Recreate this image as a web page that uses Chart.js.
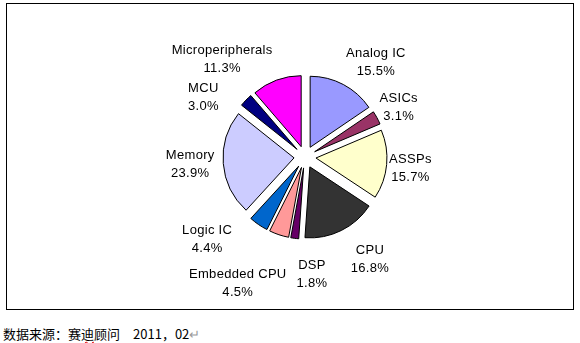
<!DOCTYPE html>
<html>
<head>
<meta charset="utf-8">
<script src="https://cdn.jsdelivr.net/npm/chart.js@4/dist/chart.umd.min.js"></script>
<style>
  html, body { margin: 0; padding: 0; background: #fff; }
  #frame { position: absolute; left: 6px; top: 3px; width: 566px; height: 305px; border: 1px solid #000; }
  #chart { position: absolute; left: 0; top: 0; z-index: 1; }
  #note { position: absolute; left: 3px; top: 327px; font: 13px/14px "Noto Sans CJK SC", sans-serif; color: #000; white-space: pre; }
  #note .spell { text-decoration: underline wavy #e00000; text-decoration-thickness: 1px; text-underline-offset: 2px; }
  #note .mark { color: #9a9a9a; }
</style>
</head>
<body>
<div id="frame"></div>
<canvas id="chart" width="580" height="343"></canvas>
<div id="note">数据来源：赛<span class="spell">迪</span>顾问　2011，02<span class="mark">↵</span></div>
<script>
// Market share by product segment (%)
const categories = ['Analog IC', 'ASICs', 'ASSPs', 'CPU', 'DSP', 'Embedded CPU', 'Logic IC', 'Memory', 'MCU', 'Microperipherals'];
const shares = [15.5, 3.1, 15.7, 16.8, 1.8, 4.5, 4.4, 23.9, 3.0, 11.3];
const sliceColors = ['#9999FF', '#993366', '#FFFFCC', '#333333', '#660066', '#FF9999', '#0066CC', '#CCCCFF', '#000080', '#FF00FF'];

// Pull every slice outward along its bisector (exploded pie).
const explode = {
  id: 'explode',
  afterDatasetsUpdate(chart, args, opts) {
    chart.getDatasetMeta(0).data.forEach(arc => {
      const mid = (arc.startAngle + arc.endAngle) / 2;
      arc.x += Math.cos(mid) * opts.distance;
      arc.y += Math.sin(mid) * opts.distance;
    });
  }
};

// Two-line labels (name + percentage) placed around the pie.
const sliceLabels = {
  id: 'sliceLabels',
  afterDatasetsDraw(chart, args, opts) {
    const ctx = chart.ctx;
    const area = chart.chartArea;
    const cx = (area.left + area.right) / 2;
    const cy = (area.top + area.bottom) / 2;
    const values = chart.data.datasets[0].data;
    ctx.save();
    ctx.font = opts.font;
    if ('letterSpacing' in ctx) ctx.letterSpacing = opts.letterSpacing;
    ctx.fillStyle = opts.color;
    ctx.textAlign = 'center';
    ctx.textBaseline = 'middle';
    chart.getDatasetMeta(0).data.forEach((arc, i) => {
      const mid = (arc.startAngle + arc.endAngle) / 2 + opts.angleShift[i] * Math.PI / 180;
      const d = opts.distance[i];
      const x = cx + Math.cos(mid) * d;
      const y = cy + Math.sin(mid) * d;
      ctx.fillText(chart.data.labels[i], x, y - opts.lineGap / 2);
      ctx.fillText(values[i].toFixed(1) + '%', x, y + opts.lineGap / 2);
    });
    ctx.restore();
  }
};

new Chart(document.getElementById('chart'), {
  type: 'pie',
  data: {
    labels: categories,
    datasets: [{
      data: shares,
      backgroundColor: sliceColors,
      borderColor: '#000',
      borderWidth: 1,
      radius: 71
    }]
  },
  options: {
    responsive: false,
    animation: false,
    events: [],
    layout: { padding: { left: 30, right: 0, top: 0, bottom: 29 } },
    plugins: {
      legend: { display: false },
      tooltip: { enabled: false },
      explode: { distance: 11 },
      sliceLabels: {
        font: '13px "Liberation Sans", Arial, sans-serif',
        letterSpacing: '0.3px',
        color: '#000',
        lineGap: 18,
        angleShift: [9.0, 0.8, 0.7, -6.2, -10.6, 9.5, 15.3, 0.8, -13.4, -20.0],
        distance: [118, 106, 106, 121, 118, 143, 128, 115, 118, 128]
      }
    }
  },
  plugins: [explode, sliceLabels]
});
</script>
</body>
</html>
